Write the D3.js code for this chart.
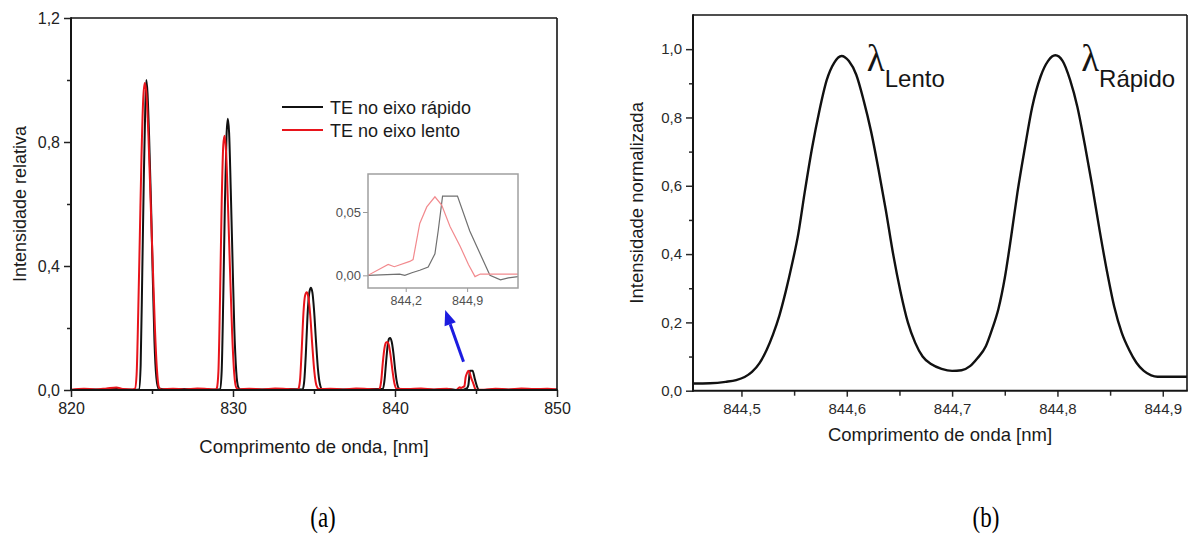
<!DOCTYPE html>
<html>
<head>
<meta charset="utf-8">
<script src="https://cdn.jsdelivr.net/npm/d3@7"></script>
<style>
  html, body { margin: 0; padding: 0; background: #fff; }
  svg { display: block; font-family: "Liberation Sans", Arial, sans-serif; }
</style>
</head>
<body>
<svg id="fig" width="1188" height="534"></svg>
<script>
// ---------- (a) espectro: TE no eixo rápido / lento  [nm, intensidade relativa] ----------
const espectroRapido = [
  [820,0],[821,0.002],[822,0.001],[822.7,0.006],[823.1,0.002],[824,0.001],
  [824.2,0.002],[824.3,0.08],[824.4,0.38],[824.5,0.7],[824.58,0.9],[824.65,1.0],[824.72,0.96],
  [824.82,0.82],[824.94,0.6],[825.05,0.36],[825.15,0.16],[825.27,0.04],[825.4,0.005],
  [826,0.002],[827,0.003],[828,0.001],[829.1,0.002],
  [829.2,0.003],[829.3,0.06],[829.4,0.3],[829.5,0.6],[829.6,0.82],[829.68,0.875],[829.76,0.83],
  [829.86,0.65],[829.98,0.4],[830.08,0.2],[830.2,0.06],[830.32,0.01],[830.45,0.002],
  [831.5,0.002],[832.5,0.001],[833.5,0.003],[834.3,0.002],
  [834.4,0.03],[834.5,0.12],[834.6,0.24],[834.7,0.31],[834.8,0.33],[834.9,0.315],
  [835.0,0.26],[835.12,0.16],[835.24,0.07],[835.36,0.02],[835.5,0.003],
  [836.5,0.002],[837.5,0.001],[838.5,0.003],[839.25,0.003],
  [839.35,0.03],[839.45,0.09],[839.55,0.145],[839.63,0.165],[839.7,0.168],[839.8,0.155],
  [839.9,0.12],[840.0,0.07],[840.1,0.03],[840.22,0.006],[840.35,0.001],
  [841.3,0.002],[842.3,0.001],[843.3,0.003],[843.77,0],[844.13,0.001],[844.19,0],
  [844.27,0.002],[844.36,0.004],[844.456,0.0065],[844.533,0.017],[844.57,0.035],
  [844.62,0.0625],[844.79,0.0625],[844.93,0.035],[845.16,0],[845.28,-0.0036],
  [845.37,-0.002],[845.49,-0.001],
  [846,0.002],[847,0.001],[848,0.003],[849,0.001],[850,0.002]
];

const espectroLento = [
  [820,0.001],[820.8,0.004],[821.5,0.002],[822.2,0.005],[822.8,0.008],[823.2,0.003],[823.8,0.002],
  [823.95,0.004],[824.05,0.05],[824.15,0.25],[824.25,0.5],[824.35,0.75],[824.45,0.93],[824.55,0.99],
  [824.65,0.96],[824.78,0.82],[824.92,0.6],[825.05,0.4],[825.18,0.2],[825.3,0.07],[825.42,0.01],[825.55,0.002],
  [826.3,0.004],[827,0.002],[827.8,0.005],[828.5,0.003],[828.95,0.002],
  [829.0,0.005],[829.1,0.06],[829.2,0.3],[829.3,0.6],[829.4,0.79],[829.48,0.82],[829.58,0.76],
  [829.7,0.58],[829.82,0.38],[829.95,0.18],[830.08,0.05],[830.2,0.008],[830.35,0.002],
  [831,0.004],[831.8,0.002],[832.6,0.005],[833.4,0.003],[834.0,0.002],
  [834.05,0.005],[834.15,0.04],[834.25,0.14],[834.35,0.25],[834.45,0.305],[834.55,0.315],
  [834.65,0.3],[834.77,0.24],[834.9,0.14],[835.02,0.06],[835.15,0.015],[835.3,0.003],
  [836,0.004],[836.8,0.002],[837.6,0.005],[838.4,0.003],[839.0,0.002],
  [839.05,0.004],[839.15,0.03],[839.25,0.09],[839.35,0.135],[839.45,0.153],[839.53,0.155],
  [839.62,0.145],[839.73,0.11],[839.85,0.06],[839.97,0.02],[840.1,0.004],
  [840.8,0.003],[841.6,0.005],[842.4,0.002],[843.2,0.004],[843.77,0],
  [844.0,0.0086],[844.07,0.0068],[844.246,0.011],[844.284,0.0125],[844.36,0.041],
  [844.44,0.054],[844.533,0.062],[844.61,0.0555],[844.705,0.0385],[844.82,0.023],
  [844.915,0.0086],[844.99,-0.001],[845.05,0.001],[845.49,0.001],
  [846.2,0.004],[847,0.002],[847.8,0.005],[848.6,0.003],[849.4,0.004],[850,0.002]
];

// ---------- (b) perfil normalizado  [nm, intensidade normalizada] ----------
const perfilNormalizado = [
  [844.452,0.021],[844.47,0.022],[844.485,0.026],[844.495,0.031],[844.503,0.04],[844.51,0.055],
  [844.517,0.08],[844.524,0.12],[844.53,0.165],[844.536,0.22],[844.542,0.29],[844.548,0.37],
  [844.554,0.46],[844.56,0.58],[844.567,0.71],[844.574,0.82],[844.581,0.91],[844.588,0.96],
  [844.595,0.98],[844.602,0.965],[844.609,0.925],[844.616,0.85],[844.623,0.76],[844.63,0.65],
  [844.637,0.53],[844.644,0.4],[844.651,0.29],[844.658,0.2],[844.665,0.14],[844.672,0.1],
  [844.68,0.078],[844.69,0.064],[844.7,0.058],[844.709,0.06],[844.717,0.072],
  [844.724,0.095],[844.732,0.13],[844.738,0.18],[844.744,0.24],[844.75,0.33],[844.756,0.45],
  [844.762,0.58],[844.769,0.71],[844.776,0.83],[844.784,0.92],[844.791,0.965],[844.798,0.982],
  [844.805,0.965],[844.812,0.91],[844.819,0.83],[844.826,0.72],[844.833,0.6],[844.84,0.47],
  [844.847,0.35],[844.854,0.245],[844.861,0.17],[844.868,0.12],[844.875,0.082],[844.882,0.058],
  [844.889,0.045],[844.895,0.041],[844.925,0.041]
];

// ---------- ticks ----------
const ticksXa = [820, 830, 840, 850];
const ticksXaMenor = [825, 835, 845];
const ticksYa = [0, 0.4, 0.8, 1.2];
const ticksYaMenor = [0.2, 0.6, 1.0];
const ticksXInset = [844.2, 844.9];
const ticksYInset = [0, 0.05];
const ticksXb = [844.5, 844.6, 844.7, 844.8, 844.9];
const ticksXbMenor = [844.55, 844.65, 844.75, 844.85];
const ticksYb = [0, 0.2, 0.4, 0.6, 0.8, 1.0];
const ticksYbMenor = [0.1, 0.3, 0.5, 0.7, 0.9];

const legenda = ["TE no eixo rápido", "TE no eixo lento"];
const coresSerie = ["#111111", "#e8141b"];
const picosRotulo = [
  { sub: "Lento",  x: 844.619, y: 0.935 },
  { sub: "Rápido", x: 844.8225, y: 0.935 }
];

// ---------- helpers ----------
const pt = d3.formatLocale({ decimal: ",", thousands: ".", grouping: [3], currency: ["", ""] });
const svg = d3.select("#fig");
svg.append("rect").attr("width", 1188).attr("height", 534).attr("fill", "#fff");

function styleAxis(g, fontSize, color) {
  g.select(".domain").remove();
  g.selectAll(".tick line").attr("stroke", color).attr("stroke-width", 1.5);
  g.selectAll(".tick text").attr("fill", color).attr("font-size", fontSize)
    .attr("font-family", '"Liberation Sans", Arial, sans-serif');
}

function frame(g, x0, x1, y0, y1, color, wMain, wSide) {
  g.append("line").attr("x1", x0).attr("x2", x1).attr("y1", y0).attr("y2", y0)
    .attr("stroke", color).attr("stroke-width", wSide);
  g.append("line").attr("x1", x1).attr("x2", x1).attr("y1", y0).attr("y2", y1)
    .attr("stroke", color).attr("stroke-width", wSide);
  g.append("line").attr("x1", x0).attr("x2", x0).attr("y1", y0 - wSide / 2).attr("y2", y1 + wMain / 2)
    .attr("stroke", color).attr("stroke-width", wMain);
  g.append("line").attr("x1", x0 - wMain / 2).attr("x2", x1 + wSide / 2).attr("y1", y1).attr("y2", y1)
    .attr("stroke", color).attr("stroke-width", wMain);
}

// ================= painel (a) =================
const xa = d3.scaleLinear().domain([820, 850]).range([71, 557]);
const ya = d3.scaleLinear().domain([0, 1.2]).range([390, 18]);
const ga = svg.append("g");

ga.append("clipPath").attr("id", "clipA").append("rect")
  .attr("x", xa.range()[0]).attr("y", ya.range()[1])
  .attr("width", xa.range()[1] - xa.range()[0]).attr("height", ya.range()[0] - ya.range()[1]);

const lineA = d3.line().x(d => xa(d[0])).y(d => ya(d[1])).curve(d3.curveMonotoneX);
const curvasA = ga.append("g").attr("clip-path", "url(#clipA)");
[espectroRapido, espectroLento].forEach((s, i) => {
  curvasA.append("path").datum(s).attr("d", lineA).attr("fill", "none")
    .attr("stroke", coresSerie[i]).attr("stroke-width", 2).attr("stroke-linejoin", "round");
});

// eixos (a)
const axXa = ga.append("g").attr("transform", `translate(0,${ya(0)})`)
  .call(d3.axisBottom(xa).tickValues(ticksXa).tickSize(7).tickPadding(6).tickFormat(pt.format("d")));
styleAxis(axXa, 16, "#222");
const axXaM = ga.append("g").attr("transform", `translate(0,${ya(0)})`)
  .call(d3.axisBottom(xa).tickValues(ticksXaMenor).tickSize(4).tickFormat(""));
styleAxis(axXaM, 16, "#222");
const axYa = ga.append("g").attr("transform", `translate(${xa(820)},0)`)
  .call(d3.axisLeft(ya).tickValues(ticksYa).tickSize(7).tickPadding(4).tickFormat(pt.format(".1f")));
styleAxis(axYa, 16, "#222");
const axYaM = ga.append("g").attr("transform", `translate(${xa(820)},0)`)
  .call(d3.axisLeft(ya).tickValues(ticksYaMenor).tickSize(4).tickFormat(""));
styleAxis(axYaM, 16, "#222");
frame(ga, xa(820), xa(850), ya(1.2), ya(0), "#151515", 2, 1.6);

ga.append("text").attr("x", (xa(820) + xa(850)) / 2).attr("y", 453)
  .attr("text-anchor", "middle").attr("font-size", 18.5).attr("fill", "#1a1a1a")
  .text("Comprimento de onda, [nm]");
ga.append("text").attr("transform", `translate(26,${(ya(0) + ya(1.2)) / 2}) rotate(-90)`)
  .attr("text-anchor", "middle").attr("font-size", 18).attr("fill", "#1a1a1a")
  .text("Intensidade relativa");

// legenda
const leg = ga.append("g").attr("transform", "translate(282,107)");
legenda.forEach((nome, i) => {
  const row = leg.append("g").attr("transform", `translate(0,${i * 23})`);
  row.append("line").attr("x1", 0).attr("x2", 41).attr("y1", 0).attr("y2", 0)
    .attr("stroke", coresSerie[i]).attr("stroke-width", 2);
  row.append("text").attr("x", 48).attr("y", 6.5).attr("font-size", 18).attr("fill", "#1a1a1a").text(nome);
});

// seta azul apontando para o detalhe
const setaDe = [844.23, 0.091], setaPara = [843.1, 0.258];
{
  const x1 = xa(setaDe[0]), y1 = ya(setaDe[1]), x2 = xa(setaPara[0]), y2 = ya(setaPara[1]);
  const ang = Math.atan2(y2 - y1, x2 - x1), L = 15, W = 6;
  const bx = x2 - L * Math.cos(ang), by = y2 - L * Math.sin(ang);
  ga.append("line").attr("x1", x1).attr("y1", y1).attr("x2", bx).attr("y2", by)
    .attr("stroke", "#1c1ce0").attr("stroke-width", 3);
  ga.append("path").attr("fill", "#1c1ce0").attr("d",
    `M${x2},${y2}L${bx + W * Math.sin(ang)},${by - W * Math.cos(ang)}L${bx - W * Math.sin(ang)},${by + W * Math.cos(ang)}Z`);
}

// ---------- detalhe (inset) ----------
const xi = d3.scaleLinear().domain([843.77, 845.48]).range([368, 518]);
const yi = d3.scaleLinear().domain([-0.01, 0.08]).range([288, 174]);
const gi = ga.append("g");
gi.append("rect").attr("x", 368).attr("y", 174).attr("width", 150).attr("height", 114).attr("fill", "#fff");
gi.append("clipPath").attr("id", "clipI").append("rect")
  .attr("x", 368).attr("y", 174).attr("width", 150).attr("height", 114);
const lineI = d3.line().x(d => xi(d[0])).y(d => yi(d[1]));
const curvasI = gi.append("g").attr("clip-path", "url(#clipI)");
const coresInset = ["#707070", "#f28a8e"];
[espectroRapido, espectroLento].forEach((s, i) => {
  curvasI.append("path").datum(s.filter(d => d[0] >= 843.6 && d[0] <= 845.6)).attr("d", lineI)
    .attr("fill", "none").attr("stroke", coresInset[i]).attr("stroke-width", 1.2);
});
const axXi = gi.append("g").attr("transform", "translate(0,288)")
  .call(d3.axisBottom(xi).tickValues(ticksXInset).tickSize(4).tickPadding(4).tickFormat(pt.format(".1f")));
styleAxis(axXi, 12.5, "#505050");
axXi.selectAll(".tick line").attr("stroke", "#999").attr("stroke-width", 1);
const axYi = gi.append("g").attr("transform", "translate(368,0)")
  .call(d3.axisLeft(yi).tickValues(ticksYInset).tickSize(5).tickPadding(2).tickFormat(pt.format(".2f")));
styleAxis(axYi, 13, "#505050");
axYi.selectAll(".tick line").attr("stroke", "#999").attr("stroke-width", 1);
gi.append("rect").attr("x", 368).attr("y", 174).attr("width", 150).attr("height", 114)
  .attr("fill", "none").attr("stroke", "#a0a0a0").attr("stroke-width", 1.5);

// ================= painel (b) =================
const xb = d3.scaleLinear().domain([844.454, 844.923]).range([693, 1187]);
const yb = d3.scaleLinear().domain([0, 1.1]).range([390.7, 15]);
const gb = svg.append("g");
gb.append("clipPath").attr("id", "clipB").append("rect")
  .attr("x", 693).attr("y", 15).attr("width", 494).attr("height", 375.7);
const lineB = d3.line().x(d => xb(d[0])).y(d => yb(d[1])).curve(d3.curveMonotoneX);
gb.append("g").attr("clip-path", "url(#clipB)").append("path").datum(perfilNormalizado)
  .attr("d", lineB).attr("fill", "none").attr("stroke", "#111").attr("stroke-width", 2.4)
  .attr("stroke-linejoin", "round");

const axXb = gb.append("g").attr("transform", `translate(0,${yb(0)})`)
  .call(d3.axisBottom(xb).tickValues(ticksXb).tickSize(6).tickPadding(7).tickFormat(pt.format(".1f")));
styleAxis(axXb, 15, "#2a2a2a");
const axXbM = gb.append("g").attr("transform", `translate(0,${yb(0)})`)
  .call(d3.axisBottom(xb).tickValues(ticksXbMenor).tickSize(5).tickFormat(""));
styleAxis(axXbM, 15, "#2a2a2a");
const axYb = gb.append("g").attr("transform", `translate(${xb(844.454)},0)`)
  .call(d3.axisLeft(yb).tickValues(ticksYb).tickSize(7).tickPadding(4).tickFormat(pt.format(".1f")));
styleAxis(axYb, 15, "#2a2a2a");
const axYbM = gb.append("g").attr("transform", `translate(${xb(844.454)},0)`)
  .call(d3.axisLeft(yb).tickValues(ticksYbMenor).tickSize(4).tickFormat(""));
styleAxis(axYbM, 15, "#2a2a2a");
frame(gb, 693, 1187, 15, yb(0), "#151515", 2, 1.6);

gb.append("text").attr("x", (693 + 1187) / 2).attr("y", 441)
  .attr("text-anchor", "middle").attr("font-size", 18.5).attr("fill", "#1a1a1a")
  .text("Comprimento de onda [nm]");
gb.append("text").attr("transform", `translate(643,${(yb(0) + yb(1.1)) / 2}) rotate(-90)`)
  .attr("text-anchor", "middle").attr("font-size", 18.5).attr("fill", "#1a1a1a")
  .text("Intensidade normalizada");

// rótulos λ dos picos
picosRotulo.forEach(p => {
  const t = gb.append("text").attr("x", xb(p.x)).attr("y", yb(p.y)).attr("fill", "#151515");
  t.append("tspan").attr("font-family", '"Liberation Serif", "DejaVu Serif", serif')
    .attr("font-size", 37).text("λ");
  t.append("tspan").attr("dy", 16).attr("font-size", 24).text(p.sub);
});

// ================= legendas (a) e (b) =================
[["(a)", 323], ["(b)", 986]].forEach(([s, x]) => {
  svg.append("text").attr("transform", `translate(${x},527) scale(1,1.25)`)
    .attr("text-anchor", "middle").attr("font-family", '"Liberation Serif", "Times New Roman", serif')
    .attr("font-size", 23).attr("fill", "#000").text(s);
});
</script>
</body>
</html>
